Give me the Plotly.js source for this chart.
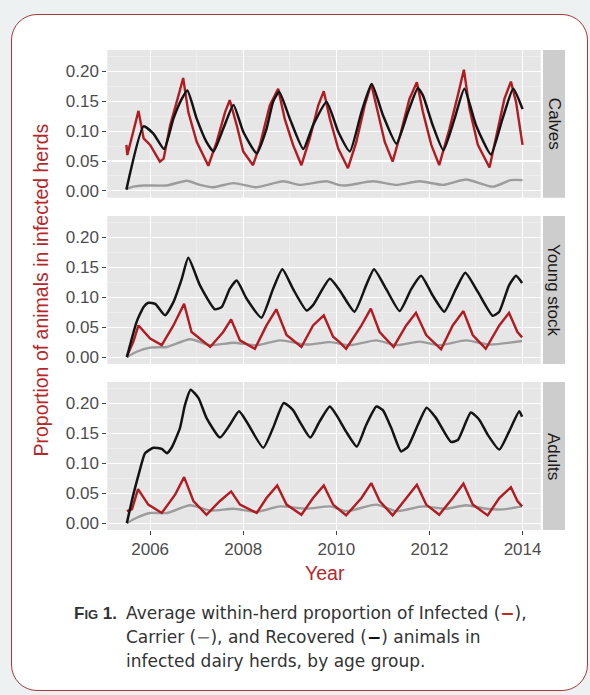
<!DOCTYPE html>
<html>
<head>
<meta charset="utf-8">
<script src="https://cdn.plot.ly/plotly-3.0.1.min.js"></script>
<style>
  html,body{margin:0;padding:0;background:#EDF1F2;}
  #frame{position:absolute;left:11px;top:14px;width:577px;height:677px;box-sizing:border-box;
         border:1.5px solid #A8383A;border-radius:26px;background:#ffffff;}
  #chart{position:absolute;left:0;top:0;width:590px;height:695px;}
</style>
</head>
<body>
<div id="frame"></div>
<div id="chart"></div>
<script>
// ---------------- DATA ----------------
const panelNames = ["Calves", "Young stock", "Adults"];
const xTickVals = [2006, 2008, 2010, 2012, 2014];
const xTickText = ["2006", "2008", "2010", "2012", "2014"];
const xMinorVals = [2005, 2007, 2009, 2011, 2013];
const yTickVals = [0, 0.05, 0.10, 0.15, 0.20];
const yTickText = ["0.00", "0.05", "0.10", "0.15", "0.20"];
const yMinorVals = [0.025, 0.075, 0.125, 0.175, 0.225];

// Calves
const calvesInfYears = [2005.49,2005.51,2005.75,2005.86,2006.00,2006.21,2006.29,2006.43,2006.61,2006.71,2006.82,2007.00,2007.25,2007.43,2007.61,2007.71,2007.86,2008.00,2008.21,2008.36,2008.57,2008.75,2008.89,2009.07,2009.25,2009.43,2009.61,2009.73,2009.86,2010.04,2010.25,2010.43,2010.61,2010.75,2010.89,2011.04,2011.21,2011.39,2011.57,2011.73,2011.86,2012.04,2012.21,2012.43,2012.61,2012.74,2012.86,2013.04,2013.29,2013.46,2013.61,2013.75,2013.86,2014.00];
const calvesInf = [0.077,0.060,0.134,0.088,0.077,0.049,0.054,0.110,0.160,0.189,0.132,0.082,0.042,0.082,0.132,0.152,0.110,0.066,0.043,0.077,0.143,0.171,0.121,0.077,0.043,0.088,0.143,0.167,0.121,0.071,0.038,0.082,0.143,0.179,0.132,0.082,0.049,0.099,0.154,0.182,0.132,0.077,0.043,0.104,0.160,0.203,0.138,0.077,0.039,0.099,0.154,0.183,0.149,0.077];
const calvesRecYears = [2005.49,2005.86,2006.07,2006.30,2006.50,2006.68,2006.80,2007.00,2007.21,2007.36,2007.57,2007.79,2008.00,2008.29,2008.50,2008.64,2008.77,2009.00,2009.29,2009.50,2009.79,2010.04,2010.29,2010.54,2010.76,2011.00,2011.29,2011.54,2011.75,2011.86,2012.07,2012.30,2012.54,2012.75,2013.00,2013.32,2013.57,2013.80,2014.00];
const calvesRec = [0.002,0.108,0.096,0.070,0.121,0.154,0.168,0.121,0.082,0.066,0.104,0.144,0.099,0.063,0.104,0.149,0.166,0.121,0.070,0.110,0.149,0.099,0.066,0.132,0.179,0.127,0.079,0.132,0.172,0.160,0.110,0.068,0.121,0.171,0.110,0.061,0.121,0.171,0.137];
const calvesCarYears = [2005.49,2005.64,2005.86,2006.36,2006.79,2007.07,2007.36,2007.79,2008.29,2008.86,2009.21,2009.79,2010.04,2010.21,2010.79,2011.29,2011.79,2012.29,2012.79,2013.36,2013.75,2014.00];
const calvesCar = [0.003,0.007,0.009,0.009,0.017,0.010,0.006,0.013,0.006,0.016,0.010,0.016,0.010,0.009,0.016,0.010,0.016,0.010,0.019,0.007,0.018,0.018];

// Young stock
const youngInfYears = [2005.50,2005.64,2005.75,2006.00,2006.25,2006.50,2006.73,2006.89,2007.29,2007.57,2007.74,2007.93,2008.25,2008.50,2008.71,2008.93,2009.25,2009.50,2009.73,2009.93,2010.07,2010.21,2010.54,2010.74,2010.93,2011.23,2011.50,2011.71,2011.93,2012.25,2012.50,2012.73,2012.93,2013.21,2013.50,2013.71,2013.89,2013.99];
const youngInf = [0.001,0.026,0.053,0.031,0.020,0.053,0.089,0.042,0.017,0.042,0.063,0.028,0.014,0.053,0.080,0.037,0.017,0.053,0.070,0.034,0.025,0.014,0.053,0.081,0.042,0.017,0.053,0.074,0.037,0.013,0.053,0.077,0.037,0.014,0.053,0.074,0.042,0.033];
const youngRecYears = [2005.50,2005.71,2005.86,2005.96,2006.11,2006.32,2006.50,2006.68,2006.82,2007.07,2007.39,2007.54,2007.71,2007.86,2008.07,2008.39,2008.64,2008.84,2009.07,2009.36,2009.50,2009.86,2010.07,2010.39,2010.64,2010.81,2011.07,2011.36,2011.61,2011.82,2012.07,2012.32,2012.57,2012.77,2013.04,2013.36,2013.50,2013.71,2013.86,2013.99];
const youngRec = [0.000,0.059,0.084,0.091,0.089,0.070,0.092,0.131,0.166,0.120,0.080,0.084,0.114,0.128,0.098,0.066,0.114,0.147,0.114,0.078,0.087,0.131,0.112,0.076,0.120,0.147,0.114,0.077,0.114,0.136,0.103,0.076,0.114,0.141,0.109,0.069,0.076,0.120,0.136,0.124];
const youngCarYears = [2005.50,2005.71,2006.00,2006.36,2006.86,2007.29,2007.79,2008.29,2008.79,2009.36,2009.86,2010.29,2010.86,2011.29,2011.79,2012.21,2012.79,2013.29,2013.99];
const youngCar = [0.000,0.009,0.016,0.017,0.030,0.020,0.024,0.020,0.028,0.021,0.025,0.020,0.028,0.020,0.026,0.020,0.028,0.021,0.027];

// Adults
const adultsInfYears = [2005.50,2005.61,2005.74,2005.96,2006.25,2006.54,2006.73,2006.93,2007.21,2007.50,2007.74,2007.93,2008.29,2008.50,2008.73,2008.93,2009.25,2009.50,2009.73,2009.93,2010.21,2010.54,2010.75,2010.93,2011.21,2011.50,2011.73,2011.93,2012.21,2012.50,2012.73,2012.93,2013.25,2013.50,2013.75,2013.89,2013.99];
const adultsInf = [0.020,0.023,0.057,0.031,0.017,0.048,0.077,0.037,0.014,0.037,0.053,0.031,0.017,0.042,0.063,0.031,0.014,0.042,0.063,0.031,0.013,0.042,0.067,0.037,0.013,0.042,0.064,0.031,0.014,0.042,0.066,0.031,0.013,0.042,0.060,0.037,0.028];
const adultsRecYears = [2005.50,2005.64,2005.79,2005.89,2006.07,2006.25,2006.36,2006.46,2006.64,2006.75,2006.87,2007.04,2007.21,2007.50,2007.71,2007.91,2008.07,2008.43,2008.64,2008.87,2009.07,2009.21,2009.44,2009.64,2009.86,2010.00,2010.21,2010.44,2010.64,2010.86,2011.00,2011.18,2011.39,2011.54,2011.75,2011.94,2012.14,2012.46,2012.61,2012.89,2013.07,2013.25,2013.50,2013.71,2013.93,2013.99];
const adultsRec = [0.000,0.048,0.092,0.117,0.126,0.124,0.117,0.126,0.159,0.198,0.223,0.209,0.176,0.143,0.164,0.187,0.170,0.126,0.159,0.201,0.189,0.170,0.143,0.170,0.195,0.181,0.153,0.128,0.164,0.195,0.189,0.159,0.120,0.128,0.164,0.193,0.176,0.136,0.139,0.185,0.173,0.148,0.123,0.153,0.187,0.178];
const adultsCarYears = [2005.50,2005.71,2006.00,2006.36,2006.86,2007.29,2007.79,2008.29,2008.79,2009.36,2009.86,2010.21,2010.86,2011.29,2011.86,2012.36,2012.79,2013.21,2013.57,2013.99];
const adultsCar = [0.000,0.009,0.017,0.017,0.030,0.021,0.024,0.019,0.028,0.024,0.028,0.020,0.031,0.020,0.028,0.024,0.030,0.024,0.023,0.028];

// ---------------- LAYOUT HELPERS ----------------
const W = 590, H = 695;
const px = v => v / W;
const py = v => 1 - v / H;
const RED = "#B01C22", BLACK = "#141414", GREY = "#9C9C9C";
const FONT = "Liberation Sans, Arial, sans-serif";

const panelPx = [[50, 197.7], [216, 364], [382, 530]];
const plotLeft = 107.3, plotRight = 540.7;
const xRange = [2005.08, 2014.39];
const yRange = [-0.0115, 0.236];

const groups = [
  {car:[calvesCarYears,calvesCar], inf:[calvesInfYears,calvesInf], rec:[calvesRecYears,calvesRec]},
  {car:[youngCarYears,youngCar], inf:[youngInfYears,youngInf], rec:[youngRecYears,youngRec]},
  {car:[adultsCarYears,adultsCar], inf:[adultsInfYears,adultsInf], rec:[adultsRecYears,adultsRec]}
];

const traces = [];
groups.forEach((g, i) => {
  const xa = i === 0 ? "x" : "x" + (i + 1);
  const ya = i === 0 ? "y" : "y" + (i + 1);
  traces.push({x:g.car[0], y:g.car[1], xaxis:xa, yaxis:ya, mode:"lines", name:"Carrier",
               line:{color:GREY, width:2.4, shape:"spline", smoothing:0.6}, showlegend:false, hoverinfo:"skip"});
  traces.push({x:g.inf[0], y:g.inf[1], xaxis:xa, yaxis:ya, mode:"lines", name:"Infected",
               line:{color:RED, width:2.4}, showlegend:false, hoverinfo:"skip"});
  traces.push({x:g.rec[0], y:g.rec[1], xaxis:xa, yaxis:ya, mode:"lines", name:"Recovered",
               line:{color:BLACK, width:2.5, shape:"spline", smoothing:0.5}, showlegend:false, hoverinfo:"skip"});
});

const layout = {
  width: W, height: H,
  margin: {l:0, r:0, t:0, b:0},
  paper_bgcolor: "rgba(0,0,0,0)",
  plot_bgcolor: "#E6E6E6",
  showlegend: false,
  font: {family: FONT, color: "#4D4D4D"},
  shapes: [],
  annotations: []
};

panelPx.forEach((p, i) => {
  const sfx = i === 0 ? "" : String(i + 1);
  const last = i === panelPx.length - 1;
  layout["xaxis" + sfx] = {
    domain: [px(plotLeft), px(plotRight)], range: xRange, anchor: "y" + sfx,
    tickvals: xTickVals, ticktext: xTickText,
    showticklabels: last, ticks: last ? "outside" : "", ticklen: 4, tickwidth: 1, tickcolor: "#444",
    tickfont: {size: 17, color: "#4D4D4D", family: FONT},
    showgrid: true, gridcolor: "#FFFFFF", gridwidth: 1.2, zeroline: false, showline: false,
    minor: {tickvals: xMinorVals, showgrid: true, gridcolor: "#F2F2F2", gridwidth: 0.6, ticks: ""}
  };
  layout["yaxis" + sfx] = {
    domain: [py(p[1]), py(p[0])], range: yRange, anchor: "x" + sfx,
    tickvals: yTickVals, ticktext: yTickText,
    ticks: "outside", ticklen: 4, tickwidth: 1, tickcolor: "#444",
    tickfont: {size: 17, color: "#4D4D4D", family: FONT},
    showgrid: true, gridcolor: "#FFFFFF", gridwidth: 1.2, zeroline: false, showline: false,
    minor: {tickvals: yMinorVals, showgrid: true, gridcolor: "#F2F2F2", gridwidth: 0.6, ticks: ""}
  };
  // strip
  layout.shapes.push({type:"rect", xref:"paper", yref:"paper",
    x0: px(543), x1: px(565), y0: py(p[1]), y1: py(p[0]),
    fillcolor: "#CDCDCD", line: {width: 0}});
  layout.annotations.push({xref:"paper", yref:"paper", x: px(554), y: py((p[0] + p[1]) / 2),
    text: panelNames[i], textangle: 90, showarrow: false, xanchor: "center", yanchor: "middle",
    font: {size: 17, color: "#1A1A1A", family: FONT}});
});

// axis titles
layout.annotations.push({xref:"paper", yref:"paper", x: px(40.5), y: py(290),
  text: "Proportion of animals in infected herds", textangle: -90, showarrow: false,
  xanchor: "center", yanchor: "middle", font: {size: 19.5, color: "#B5282A", family: FONT}});
layout.annotations.push({xref:"paper", yref:"paper", x: px(325), y: py(573),
  text: "Year", showarrow: false, xanchor: "center", yanchor: "middle",
  font: {size: 19.5, color: "#B5282A", family: FONT}});

// caption
const CAP = "DejaVu Sans, sans-serif";
layout.annotations.push({xref:"paper", yref:"paper", x: px(72), y: py(613), xanchor: "left", yanchor: "middle",
  showarrow: false, text: '<b>F<span style="font-size:13px">IG</span> 1.</b>',
  font: {size: 17, color: "#333333", family: FONT}});
layout.annotations.push({xref:"paper", yref:"paper", x: px(124), y: py(613), xanchor: "left", yanchor: "middle",
  showarrow: false,
  text: 'Average within-herd proportion of Infected (<span style="color:#C0262B"><b>−</b></span>),',
  font: {size: 17, color: "#333333", family: CAP}});
layout.annotations.push({xref:"paper", yref:"paper", x: px(124), y: py(637), xanchor: "left", yanchor: "middle",
  showarrow: false,
  text: 'Carrier (<span style="color:#777777">−</span>), and Recovered (<span style="color:#111111"><b>−</b></span>) animals in',
  font: {size: 17, color: "#333333", family: CAP}});
layout.annotations.push({xref:"paper", yref:"paper", x: px(124), y: py(661), xanchor: "left", yanchor: "middle",
  showarrow: false, text: 'infected dairy herds, by age group.',
  font: {size: 17, color: "#333333", family: CAP}});

Plotly.newPlot("chart", traces, layout, {displayModeBar: false, staticPlot: true});
</script>
</body>
</html>
